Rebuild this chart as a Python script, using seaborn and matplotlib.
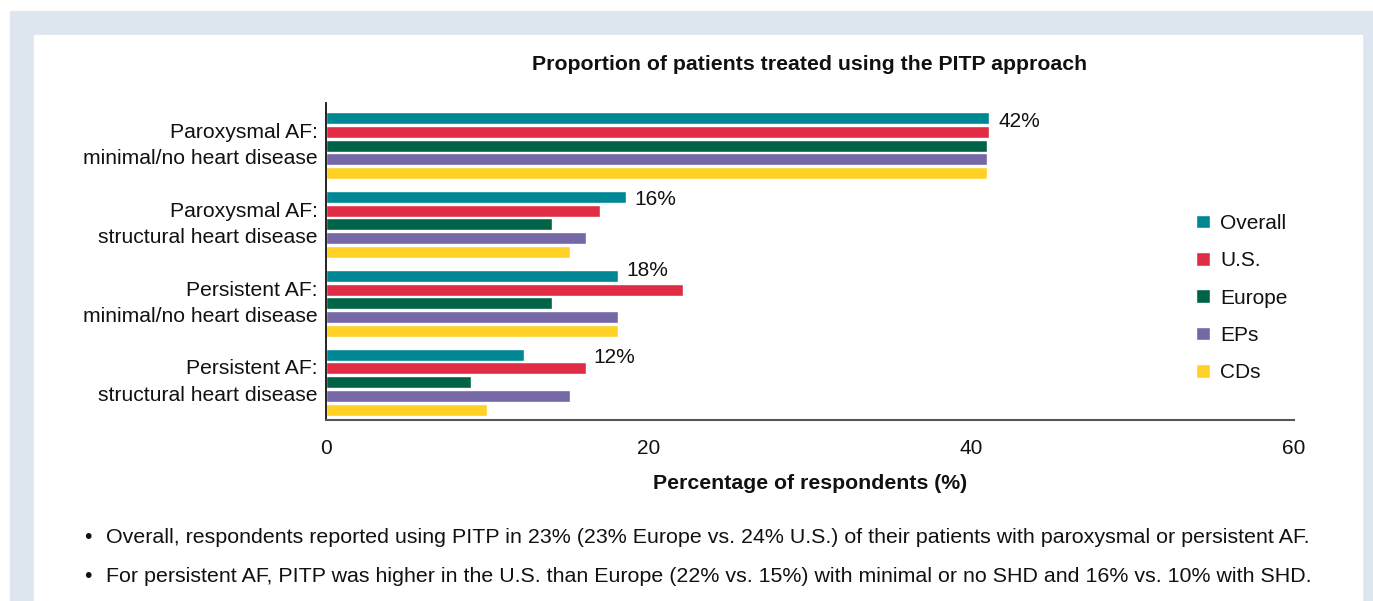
import pandas as pd
import matplotlib.pyplot as plt
import seaborn as sns
from matplotlib.patches import Rectangle

# data
categories = [
    "Paroxysmal AF:\nminimal/no heart disease",
    "Paroxysmal AF:\nstructural heart disease",
    "Persistent AF:\nminimal/no heart disease",
    "Persistent AF:\nstructural heart disease",
]
groups = ["Overall", "U.S.", "Europe", "EPs", "CDs"]
overall = [41.1, 18.6, 18.1, 12.3]
us = [41.1, 17.0, 22.1, 16.1]
europe = [41.0, 14.0, 14.0, 9.0]
eps = [41.0, 16.1, 18.1, 15.1]
cds = [41.0, 15.1, 18.1, 10.0]
overall_labels = ["42%", "16%", "18%", "12%"]
label_x = [41.7, 19.1, 18.6, 16.6]

colors = ["#008794", "#E02D45", "#006348", "#7667A6", "#FFD124"]

rows = []
for g, vals in zip(groups, [overall, us, europe, eps, cds]):
    for c, v in zip(categories, vals):
        rows.append({"category": c, "group": g, "value": v})
df = pd.DataFrame(rows)

sns.set_style("white")
plt.rcParams["font.family"] = ["Liberation Sans", "DejaVu Sans"]
plt.rcParams["text.color"] = "#111111"
plt.rcParams["axes.labelcolor"] = "#111111"
plt.rcParams["xtick.color"] = "#111111"
plt.rcParams["ytick.color"] = "#111111"

fig = plt.figure(figsize=(13.73, 6.01), dpi=100)
fig.patch.set_facecolor("white")

# framed panel behind the chart
fig.add_artist(Rectangle((10 / 1373, 0), 1 - 10 / 1373, 1 - 11 / 601,
                         transform=fig.transFigure, color="#DDE6EF", zorder=-10))
fig.add_artist(Rectangle((34 / 1373, 0), (1362 - 34) / 1373, 1 - 35 / 601,
                         transform=fig.transFigure, color="white", zorder=-9))

ax = fig.add_axes([326 / 1373, 1 - 420 / 601, 968 / 1373, 317 / 601])
ax.set_facecolor("none")

sns.barplot(data=df, y="category", x="value", hue="group", orient="h",
            palette=colors, width=0.87, gap=0.13, saturation=1,
            ax=ax, legend=True)

ax.set_xlim(0, 60)
ax.set_ylim(3.48, -0.54)
ax.set_xticks([0, 20, 40, 60])
ax.set_ylabel("")
ax.set_xlabel("Percentage of respondents (%)", fontsize=15.3, fontweight="bold", labelpad=11)
ax.set_title("Proportion of patients treated using the PITP approach",
             fontsize=15.3, fontweight="bold", pad=24)

ax.tick_params(axis="y", length=0, pad=6, labelsize=15.2)
ax.tick_params(axis="x", length=6, width=1.2, color="#444444", pad=8, labelsize=15)
for lbl in ax.get_yticklabels():
    lbl.set_horizontalalignment("right")
    lbl.set_multialignment("right")
    lbl.set_linespacing(1.5)
    lbl.set_verticalalignment("center")

sns.despine(ax=ax)
ax.spines["left"].set_color("#111111")
ax.spines["left"].set_linewidth(1.3)
ax.spines["bottom"].set_color("#555555")
ax.spines["bottom"].set_linewidth(1.5)

# value labels near the Overall bars
for i, (txt, lx) in enumerate(zip(overall_labels, label_x)):
    dy = -0.42 if i == 2 else -0.31
    ax.text(lx, i + dy, txt, fontsize=15, va="center", ha="left")

leg = ax.legend(loc="center left", bbox_to_anchor=(1188 / 1373, 1 - 298 / 601),
                bbox_transform=fig.transFigure, frameon=False, fontsize=15,
                handlelength=0.65, handleheight=0.65, handletextpad=0.5,
                labelspacing=0.88, borderaxespad=0)

# footnotes
notes = [
    "Overall, respondents reported using PITP in 23% (23% Europe vs. 24% U.S.) of their patients with paroxysmal or persistent AF.",
    "For persistent AF, PITP was higher in the U.S. than Europe (22% vs. 15%) with minimal or no SHD and 16% vs. 10% with SHD.",
]
for yy, note in zip([543, 582], notes):
    fig.text(84 / 1373, 1 - yy / 601, "\u2022", fontsize=15.4, va="baseline")
    fig.text(106 / 1373, 1 - yy / 601, note, fontsize=15.4, va="baseline")

plt.savefig("out.png", dpi=100)
